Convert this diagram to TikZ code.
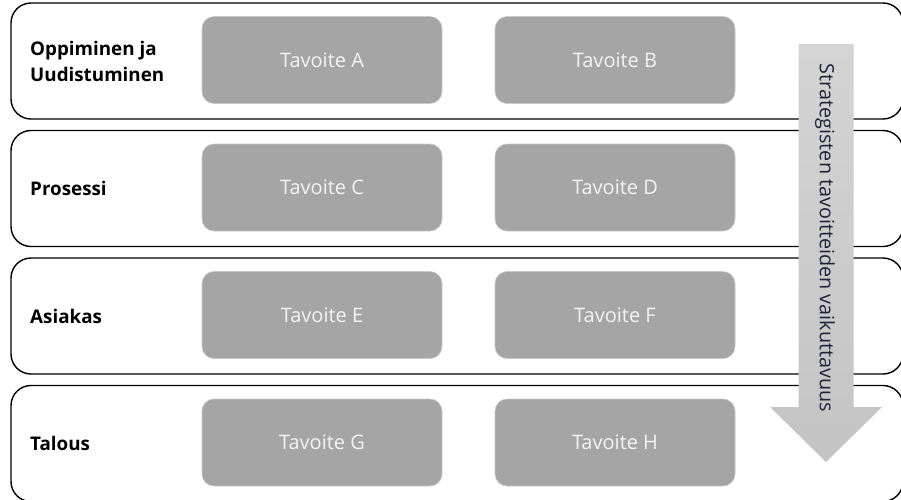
\documentclass[tikz,border=0pt]{standalone}
\usepackage{fontspec}
\setmainfont{Open Sans}
\definecolor{goalgray}{RGB}{165,165,165}
\definecolor{goaltext}{RGB}{244,244,244}
\definecolor{arrowtop}{RGB}{212,212,212}
\definecolor{arrowbot}{RGB}{196,196,196}
\definecolor{arrowtext}{RGB}{34,34,56}
\begin{document}
\begin{tikzpicture}[x=1pt,y=-1pt,
    rowbox/.style={draw=black, line width=1.4pt, rounded corners=20pt,
        minimum width=892pt, minimum height=116pt, inner sep=0pt},
    goal/.style={fill=goalgray, draw=goalgray!60!white, line width=0.6pt,
        rounded corners=12pt, minimum width=240pt, minimum height=87pt,
        text=goaltext, font=\fontsize{20}{24}\selectfont},
    rowlabel/.style={anchor=west, align=left, inner sep=0pt,
        font=\bfseries\fontsize{18.8}{26}\selectfont}]
    \clip (0,0) rectangle (901,499);
    % perspektiivit ja tavoitteet
    \foreach \y/\lab/\ga/\gb [count=\i] in {61/{Oppiminen ja\\Uudistuminen}/A/B,
            188.5/Prosessi/C/D, 316/Asiakas/E/F, 443.5/Talous/G/H} {
        \node[rowbox] (r\i) at (457,\y) {};
        \node[rowlabel] (l\i) at (30,\y) {\lab};
        \node[goal] (g\ga) at (322,\y-1) {Tavoite \ga};
        \node[goal] (g\gb) at (615,\y-1) {Tavoite \gb};
    }
    % vaikuttavuusnuoli
    \shade[top color=arrowtop, bottom color=arrowbot]
        (798.5,44) -- (853.5,44) -- (853.5,407) -- (882,407) -- (826,462)
        -- (770,407) -- (798.5,407) -- cycle;
    \node[rotate=-90, text=arrowtext, font=\fontsize{19.8}{22}\selectfont]
        (vaikutus) at (825,238) {Strategisten tavoitteiden vaikuttavuus};
\end{tikzpicture}
\end{document}
